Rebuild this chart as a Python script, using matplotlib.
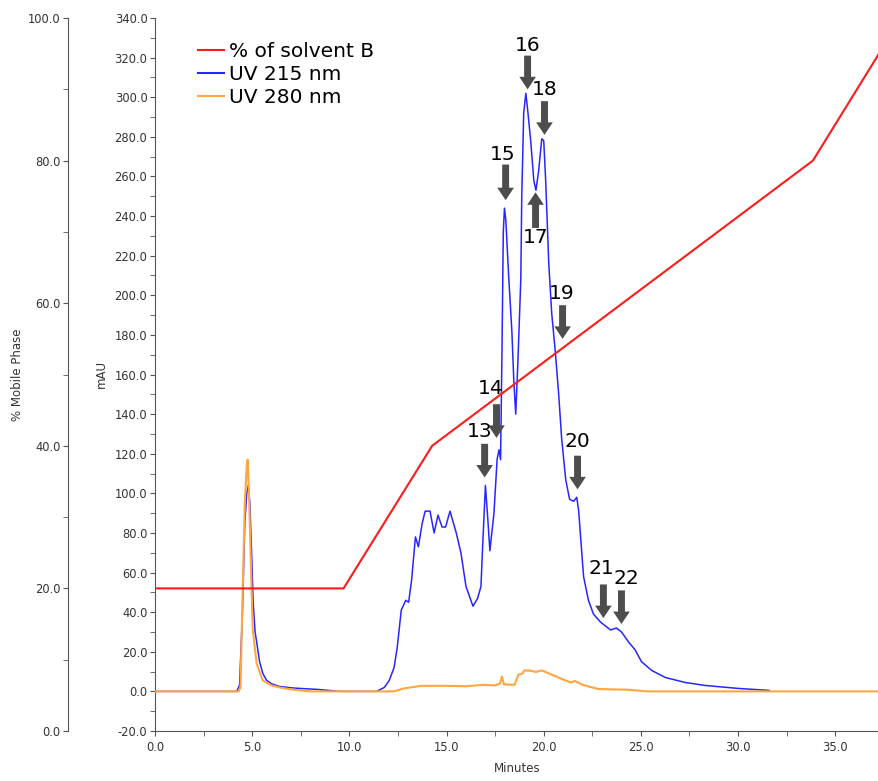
import matplotlib
matplotlib.use('Agg')
from matplotlib import pyplot as plt
from matplotlib.lines import Line2D
from matplotlib.ticker import MultipleLocator, FormatStrFormatter

"""
Chromatogram data (read from the trace)
"""
uv215_t = [0, 4.2, 4.35, 4.5, 4.62, 4.72, 4.8, 4.88, 4.97, 5.05, 5.15, 5.23, 5.38, 5.55,
           5.74, 6.0, 6.4, 7.0, 7.44, 8.36, 9.5, 10.5, 11.4, 11.8, 12.05, 12.3, 12.46,
           12.67, 12.9, 13.05, 13.2, 13.4, 13.55, 13.75, 13.9, 14.15, 14.36, 14.56,
           14.77, 14.95, 15.18, 15.5, 15.74, 16.0, 16.36, 16.6, 16.77, 16.87, 17.0,
           17.13, 17.23, 17.44, 17.6, 17.7, 17.78, 17.85, 17.92, 17.98, 18.05, 18.2,
           18.36, 18.46, 18.56, 18.67, 18.82, 18.87, 18.97, 19.08, 19.18, 19.33, 19.49,
           19.6, 19.74, 19.9, 20.0, 20.1, 20.26, 20.41, 20.6, 20.77, 20.92, 21.13,
           21.33, 21.54, 21.7, 21.8, 21.95, 22.05, 22.3, 22.56, 22.92, 23.18, 23.44,
           23.74, 24.0, 24.36, 24.7, 25.03, 25.55, 26.26, 27.28, 28.3, 30.0, 31.6]
uv215_mau = [0, 0, 3, 40, 85, 100, 104, 95, 70, 45, 30, 25, 15, 9,
             5.6, 3.8, 2.5, 1.8, 1.5, 1, 0, 0, 0, 2, 5.5, 12, 22,
             41, 46, 45, 56, 78, 73, 85, 91, 91, 80, 89,
             83, 83, 91, 80, 70, 53, 43, 47, 53, 76, 104,
             86, 71, 90, 117, 122, 117, 170, 232, 244, 238, 209,
             182, 157, 140, 166, 208, 250, 292, 302, 293, 278, 258,
             253, 263, 279, 278, 258, 216, 191, 171, 150, 128, 107,
             97, 96, 98, 91, 71, 58, 46, 39, 35, 33, 31,
             32, 30, 25, 21, 15, 10.6, 7, 4.5, 3, 1.5, 0.5]

uv280_t = [0, 4.3, 4.4, 4.51, 4.62, 4.72, 4.77, 4.85, 4.97, 5.03, 5.23, 5.54, 6.0, 6.4,
           7.0, 7.45, 8.0, 12.3, 12.8, 13.7, 15.0, 16.0, 16.9, 17.5, 17.75, 17.85,
           17.95, 18.5, 18.7, 18.9, 19.0, 19.3, 19.6, 19.9, 20.4, 21.1, 21.4, 21.6,
           22.0, 22.8, 24.4, 25.3, 37.25]
uv280_mau = [0, 0, 2, 51, 95, 114, 117, 95, 51, 31, 14, 5.5, 3, 2,
             1, 0.5, 0, 0, 1.5, 2.8, 2.8, 2.6, 3.3, 3, 4, 7.5,
             3.5, 3.3, 8.5, 9, 10.6, 10.5, 9.8, 10.6, 8.5, 5.6, 4.5, 5.3,
             3.3, 1.2, 0.8, 0, 0]

solvent_t = [0, 9.7, 14.26, 33.85, 37.25]
solvent_b = [20, 20, 40, 80, 95]

peak_labels = ['13', '14', '15', '16', '17', '18', '19', '20', '21', '22']
peak_t = [16.96, 17.57, 18.04, 19.17, 19.58, 20.04, 20.97, 21.74, 23.07, 24.0]
peak_tip = [108, 128, 248, 304, 252, 281, 178, 102, 37, 34]
peak_tail = [125, 145, 266, 321, 234, 298, 195, 119, 54, 51]
label_t = [16.7, 17.27, 17.88, 19.17, 19.58, 20.04, 20.92, 21.74, 22.97, 24.25]
label_mau = [131, 153, 271, 326, 229, 304, 201, 126, 62, 57]

"""
Plotting
"""
narrow = ['Liberation Sans Narrow', 'DejaVu Sans']
tick_col = '#333333'
spine_col = '#555555'

fig = plt.figure(figsize=(8.79, 7.81), dpi=100)
ax = fig.add_axes([155/879, 1 - 731/781, 1 - 155/879, (731 - 18)/781])
ax.plot(uv215_t, uv215_mau, color='#2626ff', lw=1.1, zorder=2)
ax.plot(uv280_t, uv280_mau, color='#ffa640', lw=1.5, zorder=3)
ax.set_xlim(0, 37.25)
ax.set_ylim(-20, 340)
for s in ['top', 'right']:
    ax.spines[s].set_visible(False)
for s in ['left', 'bottom']:
    ax.spines[s].set_color(spine_col)
ax.xaxis.set_major_locator(MultipleLocator(5))
ax.xaxis.set_minor_locator(MultipleLocator(2.5))
ax.yaxis.set_major_locator(MultipleLocator(20))
ax.yaxis.set_minor_locator(MultipleLocator(10))
ax.xaxis.set_major_formatter(FormatStrFormatter('%.1f'))
ax.yaxis.set_major_formatter(FormatStrFormatter('%.1f'))
ax.tick_params(which='major', direction='out', length=3.5, pad=2, labelsize=8.3,
               colors=spine_col, labelcolor=tick_col)
ax.tick_params(which='minor', direction='out', length=3.5, colors=spine_col)
ax.tick_params(axis='x', which='both', pad=3.5)
ax.set_xlabel('Minutes', family=narrow, fontsize=8.5, color=tick_col, labelpad=6)
ax.set_ylabel('mAU', family=narrow, fontsize=8.5, color=tick_col, labelpad=5)

for i in range(len(peak_labels)):
    ax.annotate('', xy=(peak_t[i], peak_tip[i]), xytext=(peak_t[i], peak_tail[i]),
                arrowprops=dict(facecolor='#4d4d4d', edgecolor='none',
                                width=5, headwidth=12, headlength=9), zorder=5)
    ax.text(label_t[i], label_mau[i], peak_labels[i], fontsize=14.5,
            ha='center', va='center', color='black', zorder=6)

ax2 = ax.twinx()
ax2.plot(solvent_t, solvent_b, color='#ff1a1a', lw=1.5)
ax2.set_ylim(0, 100)
ax2.yaxis.set_label_position('left')
ax2.yaxis.set_ticks_position('left')
ax2.spines['left'].set_position(('axes', -87/724))
ax2.spines['left'].set_color(spine_col)
for s in ['top', 'right', 'bottom']:
    ax2.spines[s].set_visible(False)
ax2.yaxis.set_major_locator(MultipleLocator(20))
ax2.yaxis.set_minor_locator(MultipleLocator(10))
ax2.yaxis.set_major_formatter(FormatStrFormatter('%.1f'))
ax2.tick_params(which='major', direction='out', length=3.5, pad=2, labelsize=8.3,
                colors=spine_col, labelcolor=tick_col)
ax2.tick_params(which='minor', direction='out', length=3.5, colors=spine_col)
ax2.set_ylabel('% Mobile Phase', family=narrow, fontsize=8.5, color=tick_col, labelpad=3)

handles = [Line2D([], [], color='#ff1a1a', lw=1.5),
           Line2D([], [], color='#2626ff', lw=1.5),
           Line2D([], [], color='#ffa640', lw=1.5)]
ax2.legend(handles, ['% of solvent B', 'UV 215 nm', 'UV 280 nm'],
           loc='upper left', bbox_to_anchor=(188/879, 1 - 32/781),
           bbox_transform=fig.transFigure, frameon=False, fontsize=14.5,
           handlelength=1.3, handletextpad=0.25, labelspacing=0.2, borderpad=0)

plt.savefig('out.png', dpi=100)
